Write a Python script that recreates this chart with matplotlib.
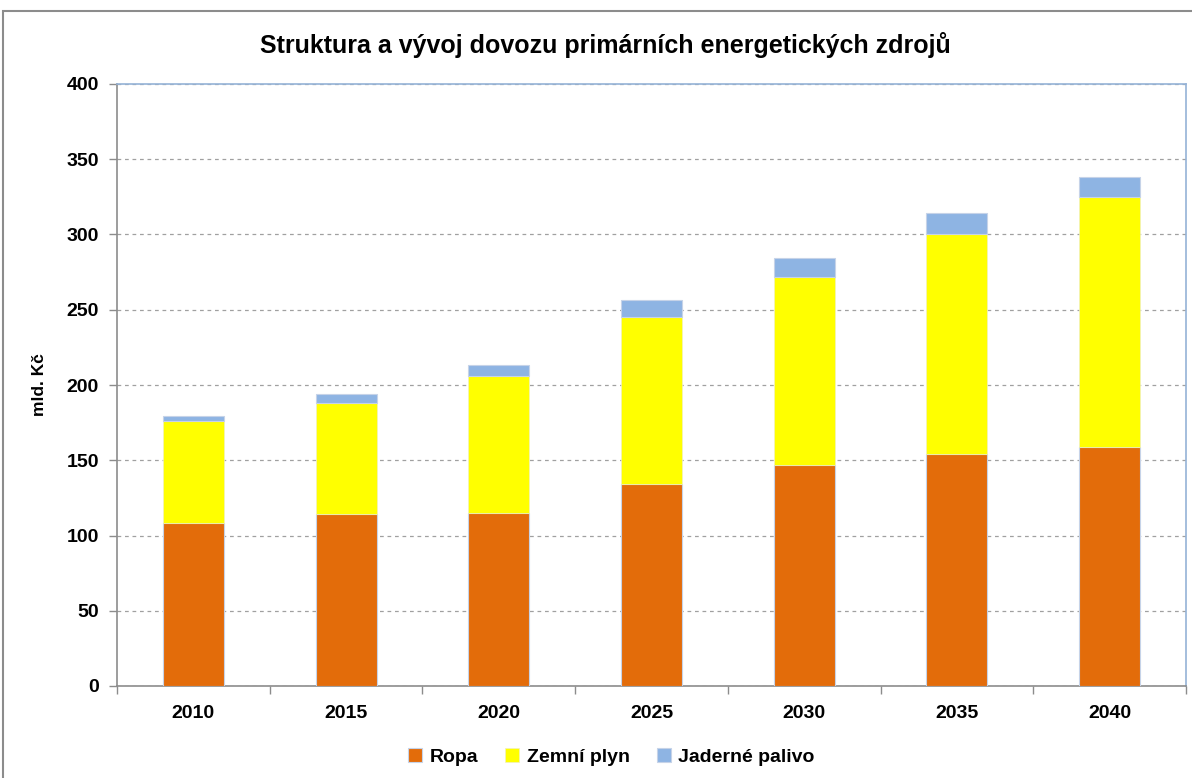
import numpy as np
import matplotlib
matplotlib.use("Agg")
import matplotlib.pyplot as plt
from matplotlib.patches import Rectangle

YEARS = ["2010", "2015", "2020", "2025", "2030", "2035", "2040"]
ROPA = [108, 114, 115, 134, 147, 154, 159]
ZEMNI_PLYN = [68, 74, 91, 111.5, 125, 146.5, 166]
JADERNE = [3.4, 6, 7, 11, 12.7, 13.8, 13.5]

LABELS = ["Ropa", "Zemní plyn", "Jaderné palivo"]
COLORS = ["#E36C0A", "#FFFF00", "#8EB4E3"]

plt.rcParams["font.family"] = ["Liberation Sans", "DejaVu Sans"]

fig = plt.figure(figsize=(11.92, 7.78), dpi=100)
ax = fig.add_axes([117 / 1192, 1 - 686 / 778, (1186 - 117) / 1192, (686 - 84) / 778])

# outer chart frame
fig.patches.append(Rectangle((3 / 1192, -0.01), 1.0, 1 - 11 / 778 + 0.01,
                             transform=fig.transFigure, fill=False,
                             edgecolor="#8c8c8c", linewidth=1.5))

x = np.arange(len(YEARS))
ropa = np.array(ROPA)
plyn = np.array(ZEMNI_PLYN)
jad = np.array(JADERNE)
w = 0.4
ax.bar(x, ropa, w, color=COLORS[0], edgecolor="#c6d3e8", linewidth=0.8, label=LABELS[0], zorder=3)
ax.bar(x, plyn, w, bottom=ropa, color=COLORS[1], edgecolor="#f0f0c0", linewidth=0.5, label=LABELS[1], zorder=3)
ax.bar(x, jad, w, bottom=ropa + plyn, color=COLORS[2], edgecolor="#c6d3e8", linewidth=0.8, label=LABELS[2], zorder=3)

ax.set_xlim(-0.5, len(YEARS) - 0.5)
ax.set_ylim(0, 400)
ax.set_yticks(range(0, 401, 50))
ax.tick_params(axis="y", labelsize=14, length=6, color="#8c8c8c", width=1, pad=7)
ax.set_xticks(x)
ax.set_xticklabels(YEARS, fontsize=14, fontweight="bold")
ax.set_xticks(np.arange(-0.5, len(YEARS)), minor=True)
ax.tick_params(axis="x", which="major", length=0, pad=14)
ax.tick_params(axis="x", which="minor", length=6, color="#8c8c8c", width=1)
for lbl in ax.get_yticklabels():
    lbl.set_fontweight("bold")

ax.yaxis.grid(True, linestyle=(0, (3, 3)), color="#a0a0a0", linewidth=0.9, zorder=0)
ax.set_axisbelow(True)

for side in ["left", "bottom"]:
    ax.spines[side].set_color("#8c8c8c")
    ax.spines[side].set_linewidth(1.2)
for side in ["top", "right"]:
    ax.spines[side].set_color("#95B3D7")
    ax.spines[side].set_linewidth(1.2)

ax.set_ylabel("mld. Kč", fontsize=12.5, fontweight="bold", labelpad=14)
fig.text(0.508, 1 - 45 / 778, "Struktura a vývoj dovozu primárních energetických zdrojů",
         ha="center", va="center", fontsize=18, fontweight="bold")

fig.legend(loc="center", bbox_to_anchor=(0.513, 1 - 757 / 778), ncol=3, frameon=False,
           prop={"weight": "bold", "size": 14}, handlelength=0.7, handleheight=0.7,
           handletextpad=0.4, columnspacing=1.4)

fig.savefig("out.png", dpi=100)
